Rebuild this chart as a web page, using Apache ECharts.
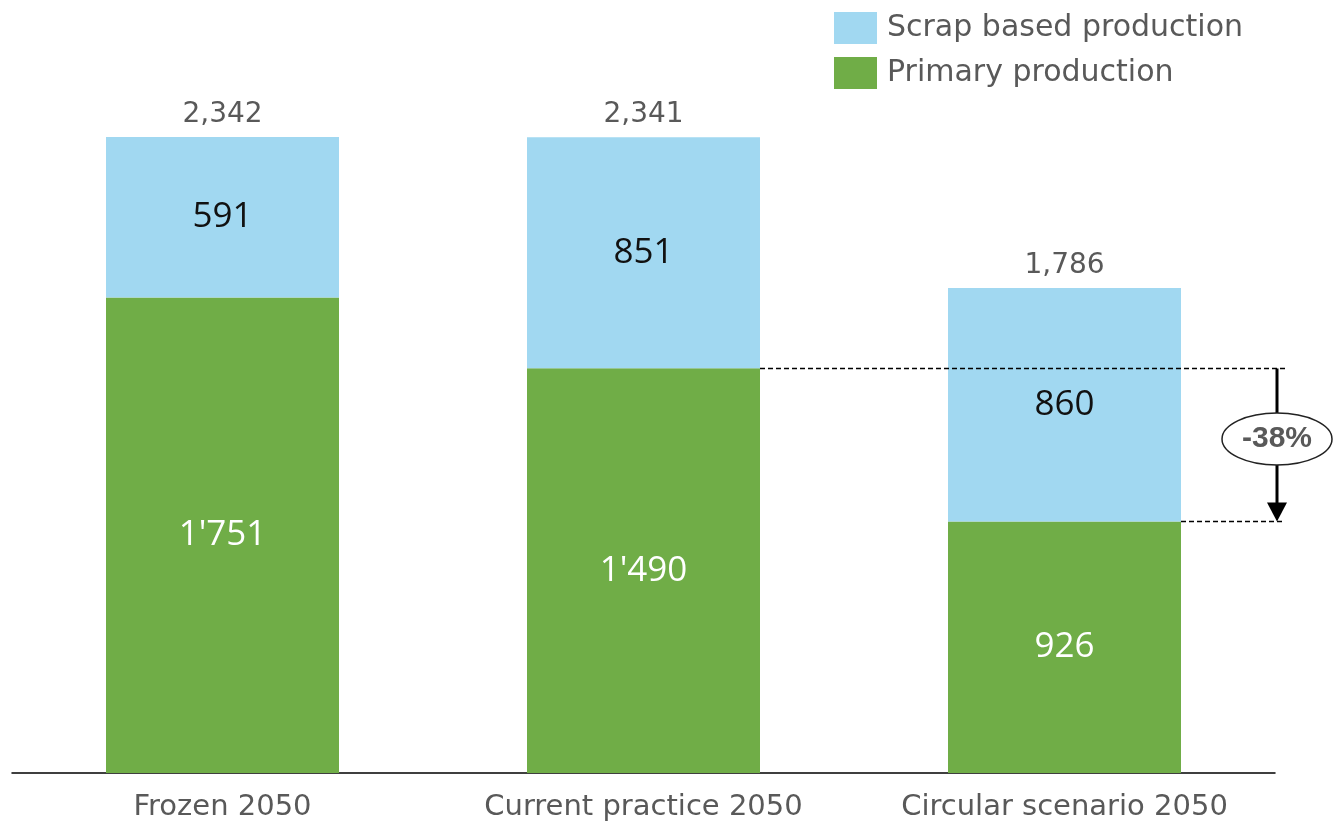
<!DOCTYPE html>
<html>
<head>
<meta charset="utf-8">
<script src="https://cdn.jsdelivr.net/npm/echarts@6/dist/echarts.min.js"></script>
<style>
html,body{margin:0;padding:0;background:#fff;}
#chart{width:1334px;height:822px;}
</style>
</head>
<body>
<div id="chart"></div>
<script>
var categories = ['Frozen 2050', 'Current practice 2050', 'Circular scenario 2050'];
var primaryValues = [1751, 1490, 926];
var scrapValues = [591, 851, 860];
var totalValues = [2342, 2341, 1786];
var seriesNames = ['Scrap based production', 'Primary production'];

var BLUE = '#A1D8F1';
var GREEN = '#70AD47';
var GREY = '#595959';
var BAR_W = 233;
var mainFont = '"DejaVu Sans", sans-serif';
var innerFont = '"Open Sans", sans-serif';

function apos(v){ return String(v).replace(/\B(?=(\d{3})+(?!\d))/g, "'"); }
function comma(v){ return String(v).replace(/\B(?=(\d{3})+(?!\d))/g, ","); }

var chart = echarts.init(document.getElementById('chart'), null, {renderer:'canvas'});
var option = {
  animation: false,
  backgroundColor: '#fff',
  grid: {left: 12, right: 59, top: 12.5, bottom: 49, containLabel: false},
  legend: {
    data: [seriesNames[0], seriesNames[1]],
    orient: 'vertical', left: 834, top: 12,
    itemWidth: 43, itemHeight: 32, itemGap: 13, padding: 0,
    icon: 'rect',
    textStyle: {fontFamily: mainFont, fontSize: 30, color: GREY, padding: [6,0,0,5]}
  },
  xAxis: {
    type: 'category', data: categories,
    axisLine: {lineStyle: {color: '#000', width: 1.5}},
    axisTick: {show: false},
    axisLabel: {interval: 0, hideOverlap: false, fontFamily: mainFont, fontSize: 29, color: GREY, margin: 20}
  },
  yAxis: {type: 'value', min: 0, max: 2800, show: false, splitLine: {show: false}},
  series: [
    {
      name: seriesNames[1], type: 'bar', stack: 's', data: primaryValues, barWidth: BAR_W,
      itemStyle: {color: GREEN},
      label: {show: true, position: 'inside', fontFamily: innerFont, fontSize: 35, color: '#fff',
        formatter: function(p){ return apos(p.value); }}
    },
    {
      name: seriesNames[0], type: 'bar', stack: 's', data: scrapValues, barWidth: BAR_W,
      itemStyle: {color: BLUE},
      label: {show: true, position: 'inside', fontFamily: innerFont, fontSize: 35, color: '#111',
        formatter: function(p){ return apos(p.value); }}
    },
    {
      name: 'Total', type: 'bar', stack: 's', data: totalValues.map(function(){return 0;}), barWidth: BAR_W,
      itemStyle: {color: 'transparent'},
      label: {show: true, position: 'top', distance: 8, fontFamily: mainFont, fontSize: 28, color: GREY,
        formatter: function(p){ return comma(totalValues[p.dataIndex]); }}
    }
  ]
};
chart.setOption(option);

// Reduction annotation between Current practice and Circular primary production
var pTop = chart.convertToPixel({gridIndex: 0}, [1, primaryValues[1]]);
var pBot = chart.convertToPixel({gridIndex: 0}, [2, primaryValues[2]]);
var xTopStart = pTop[0] + BAR_W / 2;
var xBotStart = pBot[0] + BAR_W / 2;
var xEnd = xBotStart + 104;
var xArrow = xBotStart + 96;
var yTop = Math.round(pTop[1]) + 0.5;
var yBot = Math.round(pBot[1]) + 0.5;
var pct = Math.round((primaryValues[2] - primaryValues[1]) / primaryValues[1] * 100);
var cy = (yTop + yBot) / 2 - 6;

chart.setOption({
  graphic: [
    {type: 'line', shape: {x1: xTopStart, y1: yTop, x2: xEnd, y2: yTop},
      style: {stroke: '#000', lineWidth: 1.3, lineDash: [5, 3]}, z: 10},
    {type: 'line', shape: {x1: xBotStart, y1: yBot, x2: xEnd, y2: yBot},
      style: {stroke: '#000', lineWidth: 1.3, lineDash: [5, 3]}, z: 10},
    {type: 'line', shape: {x1: xArrow, y1: yTop, x2: xArrow, y2: yBot - 16},
      style: {stroke: '#000', lineWidth: 3}, z: 11},
    {type: 'polygon', shape: {points: [[xArrow - 10, yBot - 19], [xArrow + 10, yBot - 19], [xArrow, yBot]]},
      style: {fill: '#000'}, z: 11},
    {type: 'ellipse', shape: {cx: xArrow, cy: cy, rx: 55, ry: 26},
      style: {fill: '#fff', stroke: '#222', lineWidth: 1.5}, z: 12},
    {type: 'text', x: xArrow, y: cy, z: 13,
      style: {text: pct + '%', fontFamily: '"Liberation Sans Narrow", "Liberation Sans", sans-serif', fontWeight: 'bold',
        fontSize: 30, fill: GREY, align: 'center', verticalAlign: 'middle'}}
  ]
});
</script>
</body>
</html>
